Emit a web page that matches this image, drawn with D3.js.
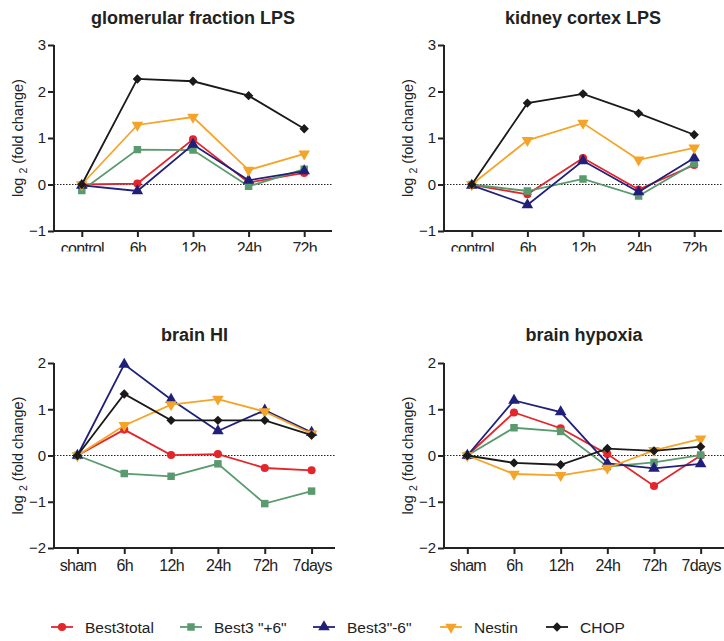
<!DOCTYPE html>
<html>
<head>
<meta charset="utf-8">
<script src="https://cdn.jsdelivr.net/npm/d3@7"></script>
<style>
  body { margin: 0; background: #fff; }
  svg text { font-family: "Liberation Sans", Arial, sans-serif; fill: #222; }
</style>
</head>
<body>
<svg id="chart" width="724" height="641"></svg>
<script>
// series names, colours and marker shapes
var seriesNames = ['Best3total', 'Best3 "+6"', 'Best3"-6"', 'Nestin', 'CHOP'];
var seriesColors = ['#e3262b', '#5a9a6f', '#20207a', '#f5a42a', '#1a1a1a'];

// categories
var lpsCats = ['control', '6h', '12h', '24h', '72h'];
var brainCats = ['sham', '6h', '12h', '24h', '72h', '7days'];

// y tick labels
var lpsTicks = [-1, 0, 1, 2, 3];
var brainTicks = [-2, -1, 0, 1, 2];

// glomerular fraction LPS
var glomBest3total = [0, 0.02, 0.97, 0.04, 0.25];
var glomBest3plus6 = [-0.13, 0.75, 0.74, -0.04, 0.33];
var glomBest3minus6 = [-0.02, -0.14, 0.86, 0.09, 0.29];
var glomNestin = [0, 1.28, 1.45, 0.31, 0.66];
var glomCHOP = [0, 2.27, 2.22, 1.91, 1.2];

// kidney cortex LPS
var kidBest3total = [-0.01, -0.21, 0.57, -0.11, 0.42];
var kidBest3plus6 = [0, -0.14, 0.12, -0.25, 0.45];
var kidBest3minus6 = [-0.02, -0.44, 0.51, -0.16, 0.57];
var kidNestin = [0, 0.95, 1.32, 0.53, 0.79];
var kidCHOP = [0, 1.75, 1.95, 1.53, 1.07];

// brain HI
var hiBest3total = [0, 0.56, 0.01, 0.03, -0.27, -0.32];
var hiBest3plus6 = [0, -0.39, -0.45, -0.18, -1.04, -0.77];
var hiBest3minus6 = [0, 1.97, 1.21, 0.53, 0.98, 0.5];
var hiNestin = [0, 0.65, 1.1, 1.22, 0.95, 0.47];
var hiCHOP = [0, 1.33, 0.76, 0.76, 0.76, 0.44];

// brain hypoxia
var hypBest3total = [0, 0.93, 0.59, 0.03, -0.66, 0];
var hypBest3plus6 = [0, 0.6, 0.52, -0.24, -0.15, 0.01];
var hypBest3minus6 = [0, 1.19, 0.94, -0.17, -0.28, -0.18];
var hypNestin = [0, -0.4, -0.43, -0.27, 0.11, 0.36];
var hypCHOP = [0, -0.16, -0.2, 0.15, 0.1, 0.19];

var svg = d3.select('#chart');

// marker path + extra rotation per series
function marker(i) {
  if (i == 0) return { d: d3.symbol().type(d3.symbolCircle).size(52)(), rot: 0 };
  if (i == 1) return { d: d3.symbol().type(d3.symbolSquare).size(56)(), rot: 0 };
  if (i == 2) return { d: d3.symbol().type(d3.symbolTriangle).size(58)(), rot: 0 };
  if (i == 3) return { d: d3.symbol().type(d3.symbolTriangle).size(58)(), rot: 180 };
  return { d: d3.symbol().type(d3.symbolSquare).size(44)(), rot: 45 };
}

function drawPanel(opt) {
  var g = svg.append('g');
  var clipId = 'clip' + opt.id;
  g.append('clipPath').attr('id', clipId)
    .append('rect')
    .attr('x', 0).attr('y', opt.top - 45)
    .attr('width', 724).attr('height', opt.clipBottom - (opt.top - 45));
  var inner = g.append('g').attr('clip-path', 'url(#' + clipId + ')');

  var x = d3.scalePoint()
    .domain(opt.cats)
    .range([opt.left, opt.right])
    .padding(0.5);
  var y = d3.scaleLinear()
    .domain(opt.domain)
    .range([opt.bottom, opt.top]);

  // title
  inner.append('text')
    .attr('x', (opt.left + opt.right) / 2)
    .attr('y', opt.titleY)
    .attr('text-anchor', 'middle')
    .style('font-weight', 'bold')
    .style('font-size', '18px')
    .text(opt.title);

  // y axis label with subscript
  var lab = inner.append('text')
    .attr('transform', 'translate(' + (opt.left - 31) + ',' + ((opt.top + opt.bottom) / 2) + ') rotate(-90)')
    .attr('text-anchor', 'middle')
    .style('font-size', '14.5px');
  lab.append('tspan').text('log ');
  lab.append('tspan').attr('dy', 4).style('font-size', '10.5px').text('2');
  lab.append('tspan').attr('dy', -4).text(' (fold change)');

  // zero line
  inner.append('line')
    .attr('x1', opt.left).attr('x2', opt.right)
    .attr('y1', y(0)).attr('y2', y(0))
    .attr('stroke', '#222')
    .attr('stroke-width', 1)
    .attr('stroke-dasharray', '1.5,1.5');

  // axes
  var yAxis = inner.append('g')
    .attr('transform', 'translate(' + opt.left + ',0)')
    .call(d3.axisLeft(y).tickValues(opt.ticks).tickSize(6).tickPadding(2).tickFormat(d3.format('d')));
  var xAxis = inner.append('g')
    .attr('transform', 'translate(0,' + opt.bottom + ')')
    .call(d3.axisBottom(x).tickSize(6).tickPadding(6));
  [yAxis, xAxis].forEach(function(a) {
    a.select('.domain').attr('stroke', '#222').attr('stroke-width', 2);
    a.selectAll('.tick line').attr('stroke', '#222').attr('stroke-width', 2);
  });
  yAxis.selectAll('.domain').attr('d', 'M0,' + opt.bottom + 'V' + opt.top);
  xAxis.selectAll('.domain').attr('d', 'M' + (opt.left - 1) + ',0H' + opt.right);
  yAxis.selectAll('.tick text').style('font-size', '15px').attr('fill', '#222').attr('font-family', null);
  xAxis.selectAll('.tick text').style('font-size', '16px').style('letter-spacing', '-0.7px')
    .attr('fill', '#222').attr('font-family', null);

  // series
  opt.series.forEach(function(vals, i) {
    var pts = opt.cats.map(function(c, j) { return [c, vals[j]]; });
    var line = d3.line()
      .x(function(d) { return x(d[0]); })
      .y(function(d) { return y(d[1]); });
    inner.append('path')
      .datum(pts)
      .attr('d', line)
      .attr('fill', 'none')
      .attr('stroke', seriesColors[i])
      .attr('stroke-width', 1.8);
    var m = marker(i);
    inner.selectAll('.m' + i)
      .data(pts)
      .enter()
      .append('path')
      .attr('class', 'm' + i)
      .attr('d', m.d)
      .attr('transform', function(d) {
        return 'translate(' + x(d[0]) + ',' + y(d[1]) + ') rotate(' + m.rot + ')';
      })
      .attr('fill', seriesColors[i]);
  });
}

drawPanel({ id: 1, title: 'glomerular fraction LPS', left: 54, right: 332, top: 45, bottom: 231,
  domain: [-1, 3], ticks: lpsTicks, cats: lpsCats, titleY: 24, clipBottom: 251.5,
  series: [glomBest3total, glomBest3plus6, glomBest3minus6, glomNestin, glomCHOP] });
drawPanel({ id: 2, title: 'kidney cortex LPS', left: 444, right: 722, top: 45, bottom: 231,
  domain: [-1, 3], ticks: lpsTicks, cats: lpsCats, titleY: 24, clipBottom: 251.5,
  series: [kidBest3total, kidBest3plus6, kidBest3minus6, kidNestin, kidCHOP] });
drawPanel({ id: 3, title: 'brain HI', left: 54, right: 335, top: 363, bottom: 548,
  domain: [-2, 2], ticks: brainTicks, cats: brainCats, titleY: 341, clipBottom: 600,
  series: [hiBest3total, hiBest3plus6, hiBest3minus6, hiNestin, hiCHOP] });
drawPanel({ id: 4, title: 'brain hypoxia', left: 444, right: 724, top: 363, bottom: 548,
  domain: [-2, 2], ticks: brainTicks, cats: brainCats, titleY: 341, clipBottom: 600,
  series: [hypBest3total, hypBest3plus6, hypBest3minus6, hypNestin, hypCHOP] });

// legend
var legendX = [51, 180, 313, 440, 546];
var legend = svg.append('g').attr('transform', 'translate(0,627)');
seriesNames.forEach(function(name, i) {
  var item = legend.append('g').attr('transform', 'translate(' + legendX[i] + ',0)');
  item.append('line')
    .attr('x1', 0).attr('x2', 22)
    .attr('stroke', seriesColors[i]).attr('stroke-width', 1.8);
  var m = marker(i);
  item.append('path')
    .attr('d', m.d)
    .attr('transform', 'translate(11,0) rotate(' + m.rot + ')')
    .attr('fill', seriesColors[i]);
  item.append('text')
    .attr('x', 34).attr('y', 5.5)
    .style('font-size', '15.5px')
    .text(name);
});
</script>
</body>
</html>
